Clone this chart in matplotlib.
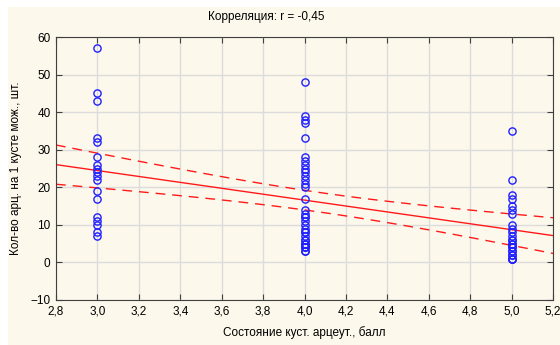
import matplotlib.pyplot as plt
import matplotlib.patches as patches
import numpy as np

plt.rcParams['font.family'] = ['Liberation Sans', 'DejaVu Sans']

# состояние кустов (балл) и количество
ball_3 = [57, 45, 43, 33, 32, 28, 26, 25, 24, 23, 22, 19, 17, 12, 11, 10, 8, 7]
ball_4 = [48, 39, 38, 37, 33, 28, 27, 26, 25, 24, 23, 22, 21, 20, 17,
          14, 13, 12, 12, 11, 10, 9, 8, 8, 7, 6, 6, 5, 5, 5, 4, 4, 4, 3, 3]
ball_5 = [35, 22, 18, 17, 15, 14, 13, 10, 9, 8, 7, 6, 6, 5, 5, 4, 4,
          3, 3, 2, 2, 1, 1, 1]
titulo = 'Корреляция: r = -0,45'

x = np.array([3.0] * len(ball_3) + [4.0] * len(ball_4) + [5.0] * len(ball_5))
y = np.array(ball_3 + ball_4 + ball_5, dtype=float)

xticks = [2.8, 3.0, 3.2, 3.4, 3.6, 3.8, 4.0, 4.2, 4.4, 4.6, 4.8, 5.0, 5.2]
yticks = [-10, 0, 10, 20, 30, 40, 50, 60]

# регрессия и 95% доверительный интервал
n = len(x)
b, a = np.polyfit(x, y, 1)
res = y - (a + b * x)
s = np.sqrt(np.sum(res ** 2) / (n - 2))
sxx = np.sum((x - x.mean()) ** 2)
xx = np.linspace(2.8, 5.2, 100)
yy = a + b * xx
ci = 1.996 * s * np.sqrt(1 / n + (xx - x.mean()) ** 2 / sxx)

fon = '#fdf8ec'
fig = plt.figure(figsize=(5.6, 3.45), dpi=100, facecolor='white')
fig.patches.append(patches.Rectangle((8 / 560, 0), 1, 1 - 7 / 345, transform=fig.transFigure,
                                     facecolor=fon, edgecolor='none', zorder=-1))
ax = fig.add_axes([56 / 560, 45 / 345, 497 / 560, 263 / 345])
ax.set_facecolor(fon)

ax.plot(x, y, 'o', markersize=5.2, markerfacecolor='none', markeredgecolor='#2020ff',
        markeredgewidth=1, zorder=3)
ax.plot(xx, yy, color='#ff1a1a', linewidth=1, zorder=2)
ax.plot(xx, yy + ci, color='#ff1a1a', linewidth=1, dashes=(7, 5), zorder=2)
ax.plot(xx, yy - ci, color='#ff1a1a', linewidth=1, dashes=(7, 5), zorder=2)

ax.set_xlim(2.8, 5.2)
ax.set_ylim(-10, 60)
ax.set_xticks(xticks)
ax.set_xticklabels([f'{v:.1f}'.replace('.', ',') for v in xticks])
ax.set_yticks(yticks)
ax.tick_params(direction='in', top=True, right=True, length=4, labelsize=8.5, pad=4,
               color='#404040')
ax.grid(True, color='#dcdcdc', linewidth=1)
ax.set_axisbelow(True)
for sp in ax.spines.values():
    sp.set_color('#404040')

ax.set_xlabel('Состояние куст. арцеут., балл', fontsize=8.5, labelpad=6)
ax.set_ylabel('Кол-во арц. на 1 кусте мож., шт.', fontsize=8.5, labelpad=6)
fig.text(266 / 560, 1 - 17 / 345, titulo, ha='center', va='center', fontsize=8.5)

plt.savefig('out.png', dpi=100, facecolor=fig.get_facecolor())
